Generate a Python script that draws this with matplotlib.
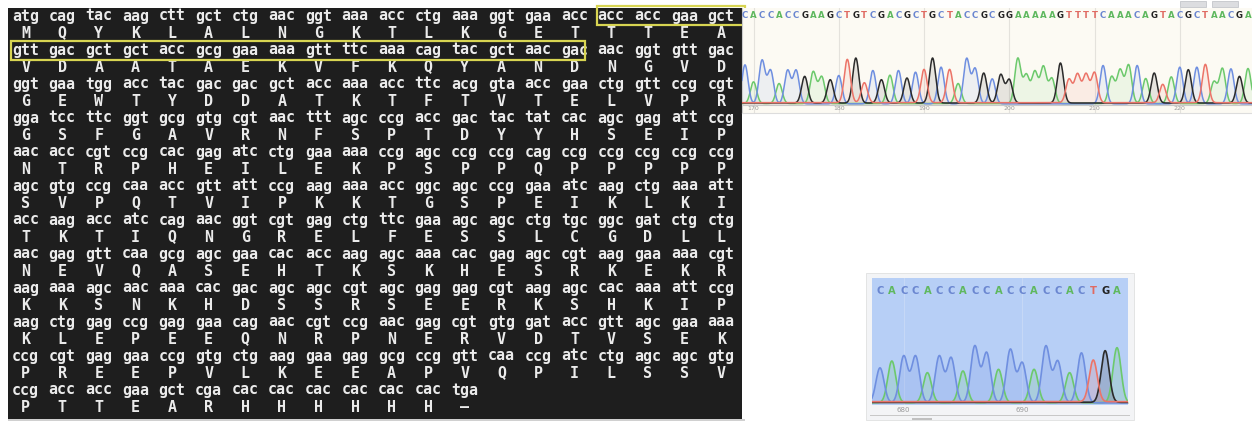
import numpy as np
import matplotlib
matplotlib.use("Agg")
import matplotlib.pyplot as plt
from matplotlib.patches import Rectangle

# ---------------- data ----------------
codons = ("atg cag tac aag ctt gct ctg aac ggt aaa acc ctg aaa ggt gaa acc acc acc gaa gct "
          "gtt gac gct gct acc gcg gaa aaa gtt ttc aaa cag tac gct aac gac aac ggt gtt gac "
          "ggt gaa tgg acc tac gac gac gct acc aaa acc ttc acg gta acc gaa ctg gtt ccg cgt "
          "gga tcc ttc ggt gcg gtg cgt aac ttt agc ccg acc gac tac tat cac agc gag att ccg "
          "aac acc cgt ccg cac gag atc ctg gaa aaa ccg agc ccg ccg cag ccg ccg ccg ccg ccg "
          "agc gtg ccg caa acc gtt att ccg aag aaa acc ggc agc ccg gaa atc aag ctg aaa att "
          "acc aag acc atc cag aac ggt cgt gag ctg ttc gaa agc agc ctg tgc ggc gat ctg ctg "
          "aac gag gtt caa gcg agc gaa cac acc aag agc aaa cac gag agc cgt aag gaa aaa cgt "
          "aag aaa agc aac aaa cac gac agc agc cgt agc gag gag cgt aag agc cac aaa att ccg "
          "aag ctg gag ccg gag gaa cag aac cgt ccg aac gag cgt gtg gat acc gtt agc gaa aaa "
          "ccg cgt gag gaa ccg gtg ctg aag gaa gag gcg ccg gtt caa ccg atc ctg agc agc gtg "
          "ccg acc acc gaa gct cga cac cac cac cac cac cac tga").split()
amino_acids = list("MQYKLALNGKTLKGETTTEA"
                   "VDAATAEKVFKQYANDNGVD"
                   "GEWTYDDATKTFTVTELVPR"
                   "GSFGAVRNFSPTDYYHSEIP"
                   "NTRPHEILEKPSPPQPPPPP"
                   "SVPQTVIPKKTGSPEIKLKI"
                   "TKTIQNGRELFESSLCGDLL"
                   "NEVQASEHTKSKHESRKEKR"
                   "KKSNKHDSSRSEERKSHKIP"
                   "KLEPEEQNRPNERVDTVSEK"
                   "PREEPVLKEEAPVQPILSSV"
                   "PTTEARHHHHHH") + ["\u2013"]
codons_per_row = 20

# chromatogram 1 (positions 169-228)
read1 = "CACCACCGAAGCTGTCGACGCTGCTACCGCGGAAAAAGTTTTCAAACAGTACGCTAACGA"
start1 = 169
heights1 = [117, 65, 130, 100, 60, 100, 100, 80, 95, 80, 70, 85, 130, 135, 60,
            100, 70, 85, 100, 75, 95, 100, 135, 110, 100, 60, 135, 105, 90, 75,
            85, 70, 135, 85, 95, 110, 75, 120, 70, 85, 85, 90, 115, 80, 100,
            115, 115, 75, 90, 55, 80, 110, 100, 110, 115, 65, 105, 105, 80, 105]
ticks1 = [170, 180, 190, 200, 210, 220]

# chromatogram 2 (positions 678-698)
read2 = "CACCACCACCACCACCACTGA"
start2 = 678
heights2 = [105, 125, 140, 140, 90, 140, 135, 95, 170, 150, 100, 160, 120, 100,
            170, 125, 90, 150, 125, 155, 165]
ticks2 = [680, 690]

base_colors = {"A": "#6cc96c", "C": "#6f8fe0", "G": "#2b2b2b", "T": "#ec7468"}
letter_colors = {"A": "#5fb85f", "C": "#6a86d0", "G": "#222222", "T": "#e06a62"}

# ---------------- figure ----------------
W, H = 1252, 422
fig = plt.figure(figsize=(W / 100, H / 100), dpi=100)
fig.patch.set_facecolor("white")


def px_axes(x0, y0, x1, y1, **kw):
    return fig.add_axes([x0 / W, 1 - y1 / H, (x1 - x0) / W, (y1 - y0) / H], **kw)


def fig_rect(x0, y0, x1, y1, **kw):
    r = Rectangle((x0 / W, 1 - y1 / H), (x1 - x0) / W, (y1 - y0) / H,
                  transform=fig.transFigure, **kw)
    fig.add_artist(r)
    return r


# ---- sequence panel ----
cw, lh = 9.15, 17.0            # char width / line height in px
ax = px_axes(8, 8, 742, 419)
ax.set_facecolor("#1e1e1e")
ax.set_xlim(-4 / cw, (742 - 12) / cw)
ax.set_ylim((419 - 16) / lh, -8 / lh)
ax.set_xticks([]); ax.set_yticks([])
for s in ax.spines.values():
    s.set_visible(False)

mono = dict(family="DejaVu Sans Mono", weight="bold", size=10.8, color="#ebebeb",
            va="center")
for k, (cod, aa) in enumerate(zip(codons, amino_acids)):
    r, c = divmod(k, codons_per_row)
    ax.text(4 * c, 2 * r, cod, ha="left", **mono)
    ax.text(4 * c + 1.5, 2 * r + 1, aa, ha="center", **mono)

yel = "#d8d552"
ax.add_patch(Rectangle((63.9, -0.58), 16.25, 1.12, fill=False, ec=yel, lw=1.6,
                       clip_on=False, zorder=5))
ax.add_patch(Rectangle((-0.1, 1.45), 62.7, 1.12, fill=False, ec=yel, lw=1.6,
                       clip_on=False, zorder=5))

# thin grey line under the panel
fig_rect(8, 419, 745, 421, fc="#d0d0d0", ec="none")


def chromatogram(axc, read, start, heights, sigma, fill_alpha, noise, lw):
    pos = start + np.arange(len(read))
    x = np.linspace(pos[0] - 1.5, pos[-1] + 1.5, 3000)
    for b, col in base_colors.items():
        y = np.zeros_like(x)
        for p, base, h in zip(pos, read, heights):
            if base == b:
                y += h * np.exp(-0.5 * ((x - p) / sigma) ** 2)
        y += noise[b]
        axc.fill_between(x, 0, y, color=col, alpha=fill_alpha, lw=0, zorder=2)
        axc.plot(x, y, color=col, lw=lw, zorder=3)
    return pos


# ---- chromatogram 1 ----
ax1 = px_axes(742, 8, 1252, 113)
ax1.set_facecolor("#fcfaf3")
scale1 = (1248 - 745) / (len(read1) - 1)
x_left = start1 - 3 / scale1
ax1.set_xlim(x_left, x_left + 510 / scale1)
ax1.set_ylim(-27, 288)
noise1 = {"A": 1.5, "C": 0.5, "G": 3.0, "T": 4.0}
pos1 = chromatogram(ax1, read1, start1, heights1, 0.36, 0.10, noise1, 1.1)
for t in ticks1:
    ax1.axvline(t, color="#e4e2dc", lw=0.8, zorder=1)
for p, b in zip(pos1, read1):
    ax1.text(p, 267, b, ha="center", va="center", fontsize=6.2,
             weight="bold", color=letter_colors[b], family="DejaVu Sans")
for t in ticks1:
    ax1.text(t, -13, str(t), ha="center", va="center", fontsize=4.5, color="#9a9a9a")
ax1.axhline(-4, color="#c8c8c8", lw=0.8)
ax1.set_xticks([]); ax1.set_yticks([])
for s in ax1.spines.values():
    s.set_visible(False)
ax1.spines["left"].set_visible(True)
ax1.spines["left"].set_color("#cccccc")
ax1.spines["bottom"].set_visible(True)
ax1.spines["bottom"].set_color("#dddddd")

# small toolbar buttons at top right
for bx in (1180, 1212):
    fig_rect(bx, 1, bx + 26, 7, fc="#dcdde0", ec="#c4c6ca", lw=0.6)

# ---- chromatogram 2 ----
fig_rect(866, 273, 1134, 420, fc="#f3f4f6", ec="#e0e0e0", lw=0.6, zorder=-5)
ax2 = px_axes(872, 278, 1128, 405)
ax2.set_zorder(2)
ax2.set_facecolor("#b7cff6")
scale2 = (1117 - 880) / (len(read2) - 1)
x2l = start2 - 8 / scale2
ax2.set_xlim(x2l, x2l + 256 / scale2)
ax2.set_ylim(-6, 375)
noise2 = {"A": 1.0, "C": 0.5, "G": 2.0, "T": 4.0}
pos2 = chromatogram(ax2, read2, start2, heights2, 0.34, 0.18, noise2, 1.2)
for t in ticks2:
    ax2.axvline(t, color="#c6d8f6", lw=0.8, zorder=1)
for p, b in zip(pos2, read2):
    ax2.text(p, 336, b, ha="center", va="center", fontsize=7.2,
             weight="bold", color=letter_colors[b], family="DejaVu Sans")
ax2.set_xticks([]); ax2.set_yticks([])
for s in ax2.spines.values():
    s.set_visible(False)
for t in ticks2:
    ax2.text(t, -21, str(t), ha="center", va="center", fontsize=5, color="#9a9a9a",
             clip_on=False)
fig_rect(870, 415, 1130, 416.2, fc="#c8c8c8", ec="none", zorder=3)
fig_rect(912, 418, 932, 420, fc="#c0c0c0", ec="none", zorder=3)

fig.savefig("out.png", dpi=100, facecolor="white")
